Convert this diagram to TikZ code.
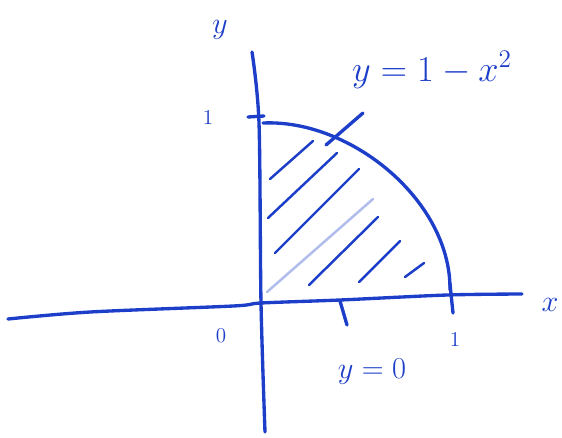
\documentclass[tikz,border=0pt]{standalone}
\usepackage{tikz}
\definecolor{ink}{RGB}{28,62,200}
\tikzset{
  pen/.style={draw=ink, line width=1.9pt, line cap=round, line join=round},
  hatch/.style={draw=ink, line width=1.4pt, line cap=round},
  lbl/.style={text=ink, inner sep=0pt, font=\fontsize{18}{20}\selectfont},
  small lbl/.style={text=ink, inner sep=0pt, font=\fontsize{13}{15}\selectfont}
}
\begin{document}
\begin{tikzpicture}
  \useasboundingbox (-5.22,-2.72) rectangle (6.02,6.02);
  % Axes
  \coordinate (O) at (0,-0.04);
  \draw[pen] plot[smooth, tension=0.5] coordinates {(-5.06,-0.36) (-3.42,-0.22) (-0.56,-0.10) (0,-0.04) (1.58,0.02) (3.72,0.12) (5.22,0.14)};
  \draw[pen] plot[smooth, tension=0.5] coordinates {(-0.18,4.98) (-0.04,3.56) (0,-0.04) (0.08,-2.62)};
  % Tick marks
  \draw[pen] (-0.26,3.68) -- (0.06,3.70);
  \draw[pen] (3.78,0.34) -- (3.84,-0.24);
  % Curve y = 1 - x^2
  \coordinate (ctopend) at (0.04,3.56);
  \coordinate (cbotend) at (3.78,0.22);
  \draw[pen] (ctopend) .. controls (1.8,3.64) and (3.8,2.0) .. (cbotend);
  % Hatching
  \draw[hatch] (0.18,2.44) -- (1.04,3.20);
  \draw[hatch] (0.14,1.66) -- (1.52,2.96);
  \draw[hatch] (0.28,0.96) -- (1.96,2.64);
  \draw[hatch, draw opacity=0.35] (0.12,0.18) -- (2.24,2.04);
  \draw[hatch] (0.96,0.32) -- (2.34,1.68);
  \draw[hatch] (1.96,0.38) -- (2.78,1.20);
  \draw[hatch] (2.88,0.48) -- (3.26,0.76);
  % Labels
  \node[lbl] (ylab) at (-0.82,5.42) {$y$};
  \node[lbl] (xlab) at (5.78,-0.08) {$x$};
  \node[small lbl] (yone) at (-1.06,3.66) {$1$};
  \node[small lbl] (orig) at (-0.80,-0.70) {$0$};
  \node[small lbl] (xone) at (3.88,-0.78) {$1$};
  \node[lbl, font=\fontsize{21}{24}\selectfont] (curve) at (3.42,4.62) {$y=1-x^2$};
  \node[lbl] (base) at (2.22,-1.42) {$y=0$};
  % Leaders
  \coordinate (cfoot) at (1.30,3.12);
  \coordinate (ctop) at (2.04,3.76);
  \draw[pen] (cfoot) -- (ctop);
  \coordinate (bfoot) at (1.58,0.00);
  \coordinate (btop) at (1.72,-0.48);
  \draw[pen] (bfoot) -- (btop);
\end{tikzpicture}
\end{document}
